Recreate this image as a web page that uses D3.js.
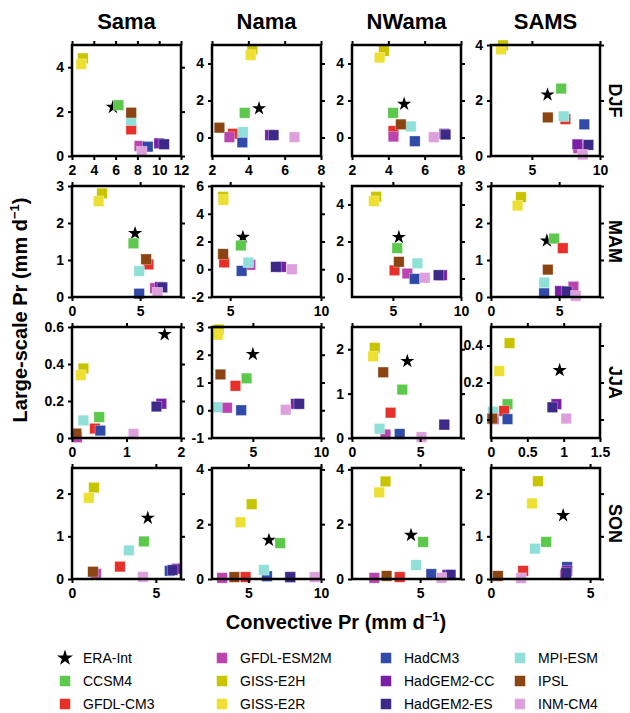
<!DOCTYPE html>
<html><head><meta charset="utf-8">
<script src="https://cdn.jsdelivr.net/npm/d3@7"></script>
<style>
body{margin:0;background:#fff;}
text{font-family:"Liberation Sans",Arial,Helvetica,sans-serif;}
</style></head>
<body><svg id="c" width="630" height="713"></svg>
<script>
// ---------------- data ----------------
const regions = ["Sama", "Nama", "NWama", "SAMS"];
const seasons = ["DJF", "MAM", "JJA", "SON"];
const series = ["ERA-Int", "CCSM4", "GFDL-CM3", "GFDL-ESM2M", "GISS-E2H", "GISS-E2R",
  "HadCM3", "HadGEM2-CC", "HadGEM2-ES", "MPI-ESM", "IPSL", "INM-CM4"];
const seriesColors = ["#000000", "#5cc94c", "#e8302a", "#bb44b0", "#c8c400", "#eee033",
  "#2f4aa8", "#7a1fa8", "#3d2a88", "#8fe0d8", "#8b4513", "#dda0dd"];

// convective Pr (x) and large-scale Pr (y), one row per region (Sama, Nama, NWama, SAMS),
// values in series order
const convDJF = [
  [5.75, 6.27, 7.43, 8.19, 3.0, 2.85, 8.95, 10.0, 10.45, 7.43, 7.43, 8.4],
  [4.59, 3.8, 3.15, 2.96, 4.22, 4.13, 3.67, 5.2, 5.39, 3.7, 2.41, 6.54],
  [4.87, 4.26, 4.28, 4.28, 3.76, 3.52, 5.46, 7.09, 7.15, 5.24, 4.69, 6.5],
  [6.15, 7.15, 7.46, 8.41, 2.88, 2.73, 8.85, 8.34, 9.15, 7.34, 6.17, 8.73]];
const lsDJF = [
  [2.2, 2.29, 1.2, 0.45, 4.4, 4.14, 0.42, 0.57, 0.53, 1.6, 1.95, 0.2],
  [1.57, 1.33, 0.2, 0.02, 4.77, 4.46, -0.26, 0.13, 0.13, 0.29, 0.53, 0.02],
  [1.81, 1.33, 0.35, 0.05, 4.68, 4.32, -0.2, 0.2, 0.16, 0.6, 0.71, 0.02],
  [2.21, 2.43, 1.33, 0.28, 3.99, 3.84, 1.14, 0.42, 0.4, 1.43, 1.39, 0.05]];
const convMAM = [
  [4.63, 4.51, 5.61, 6.1, 2.2, 1.95, 4.93, 6.46, 6.63, 4.93, 5.44, 6.27],
  [5.7, 5.59, 4.67, 6.11, 4.61, 4.63, 5.63, 7.8, 7.52, 6.0, 4.61, 8.4],
  [5.44, 5.32, 5.12, 6.06, 3.77, 3.6, 6.6, 8.6, 8.35, 6.8, 5.44, 7.34],
  [4.1, 4.63, 5.27, 6.05, 2.2, 1.95, 3.9, 5.07, 5.56, 3.9, 4.17, 6.22]];
const lsMAM = [
  [1.72, 1.45, 0.88, 0.24, 2.8, 2.59, 0.09, 0.27, 0.26, 0.7, 1.02, 0.12],
  [2.32, 1.71, 0.49, 0.32, 5.22, 5.0, -0.12, 0.17, 0.17, 0.49, 1.1, 0.0],
  [2.23, 1.64, 0.44, 0.27, 4.42, 4.18, -0.02, 0.18, 0.18, 0.82, 0.9, 0.04],
  [1.52, 1.58, 1.32, 0.28, 2.7, 2.47, 0.1, 0.16, 0.15, 0.39, 0.74, 0.03]];
const convJJA = [
  [1.7, 0.5, 0.42, 0.09, 0.21, 0.16, 0.52, 1.64, 1.55, 0.21, 0.08, 1.13],
  [5.0, 4.54, 3.72, 3.1, 2.49, 2.42, 4.14, 8.16, 8.4, 2.37, 2.62, 7.41],
  [4.06, 3.69, 2.83, 2.46, 1.67, 1.55, 3.5, 6.77, 6.77, 2.02, 2.29, 5.1],
  [0.945, 0.227, 0.18, 0.036, 0.255, 0.114, 0.227, 0.9, 0.845, 0.027, 0.018, 1.036]];
const lsJJA = [
  [0.56, 0.113, 0.051, 0.004, 0.376, 0.34, 0.04, 0.185, 0.17, 0.095, 0.024, 0.022],
  [2.02, 1.15, 0.88, 0.09, 2.91, 2.72, 0.0, 0.23, 0.23, 0.11, 1.29, 0.02],
  [1.73, 1.09, 0.57, 0.08, 2.03, 1.84, 0.09, 0.3, 0.3, 0.21, 1.48, 0.02],
  [0.266, 0.083, 0.046, 0.002, 0.413, 0.262, 0.002, 0.083, 0.066, 0.042, 0.005, 0.005]];
const convSON = [
  [4.52, 4.29, 2.86, 1.43, 1.31, 1.0, 5.83, 6.25, 6.0, 3.39, 1.25, 4.23],
  [6.42, 7.19, 4.81, 3.2, 5.23, 4.46, 6.28, 7.88, 7.88, 6.07, 4.04, 9.56],
  [4.33, 5.22, 3.5, 1.64, 2.46, 2.0, 5.82, 7.0, 7.24, 4.7, 2.54, 6.57],
  [3.64, 2.78, 1.62, 3.74, 2.37, 2.07, 3.84, 3.84, 3.79, 2.22, 0.35, 1.52]];
const lsSON = [
  [1.43, 0.88, 0.29, 0.12, 2.14, 1.9, 0.19, 0.24, 0.21, 0.67, 0.17, 0.05],
  [1.42, 1.31, 0.07, 0.04, 2.73, 2.07, 0.1, 0.07, 0.07, 0.33, 0.07, 0.07],
  [1.6, 1.35, 0.07, 0.04, 3.56, 3.16, 0.18, 0.15, 0.15, 0.51, 0.11, 0.04],
  [1.49, 0.87, 0.19, 0.09, 2.29, 1.77, 0.28, 0.19, 0.14, 0.71, 0.07, 0.02]];

// axis ranges and tick labels per panel [season][region]
const xDomains = [
  [[2, 12], [2, 8], [2, 8], [2, 10]],
  [[0, 8], [4, 10], [2, 10], [0, 8]],
  [[0, 2], [2, 10], [0, 8], [0, 1.5]],
  [[0, 6.5], [2.5, 10], [0, 8], [0, 5.5]]];
const xTicks = [
  [[2, 4, 6, 8, 10, 12], [2, 4, 6, 8], [2, 4, 6, 8], [5, 10]],
  [[0, 5], [5, 10], [5, 10], [0, 5]],
  [[0, 1, 2], [5, 10], [0, 5], [0, 0.5, 1, 1.5]],
  [[0, 5], [5, 10], [5], [0, 5]]];
const yDomains = [
  [[0, 5], [-1, 5], [-1, 5], [0, 4]],
  [[0, 3], [-2, 6], [-1, 5], [0, 3]],
  [[0, 0.6], [-1, 3], [0, 2.5], [-0.1, 0.5]],
  [[0, 2.6], [0, 4.05], [0, 4.05], [0, 2.6]]];
const yTicks = [
  [[0, 2, 4], [0, 2, 4], [0, 2, 4], [0, 2, 4]],
  [[0, 1, 2, 3], [-2, 0, 2, 4, 6], [0, 2, 4], [0, 1, 2, 3]],
  [[0, 0.2, 0.4, 0.6], [-1, 0, 1, 2, 3], [0, 1, 2], [0, 0.2, 0.4]],
  [[0, 1, 2], [0, 2, 4], [0, 2, 4], [0, 1, 2]]];

const convAll = [convDJF, convMAM, convJJA, convSON];
const lsAll = [lsDJF, lsMAM, lsJJA, lsSON];

// ---------------- layout ----------------
const svg = d3.select("#c");
const colLeft = [72, 212, 352, 491];
const rowTop = [45, 186, 327, 468];
const pw = 109, ph = 111;
const sq = 10.5;
const fmt = v => String(v);

regions.forEach((r, ci) => {
  svg.append("text").attr("x", colLeft[ci] + pw / 2).attr("y", 29)
    .attr("text-anchor", "middle").attr("font-size", 22).attr("font-weight", "bold").text(r);
});
seasons.forEach((s, ri) => {
  const cx = 615, cy = rowTop[ri] + ph / 2;
  svg.append("text").attr("transform", `translate(${cx},${cy}) rotate(90)`)
    .attr("text-anchor", "middle").attr("dy", "0.35em")
    .attr("font-size", 18).attr("font-weight", "bold").text(s);
});

const starPath = d3.symbol().type(d3.symbolStar).size(62)();

for (let ri = 0; ri < 4; ri++) {
  for (let ci = 0; ci < 4; ci++) {
    const x0 = colLeft[ci], y0 = rowTop[ri];
    const g = svg.append("g").attr("transform", `translate(${x0},${y0})`);
    const x = d3.scaleLinear().domain(xDomains[ri][ci]).range([0, pw]);
    const y = d3.scaleLinear().domain(yDomains[ri][ci]).range([ph, 0]);
    const xs = convAll[ri][ci], ys = lsAll[ri][ci];

    d3.range(series.length).forEach(i => {
      if (i === 0) {
        g.append("path").attr("d", starPath)
          .attr("transform", `translate(${x(xs[i])},${y(ys[i])})`)
          .attr("fill", "#000");
      } else {
        g.append("rect").attr("x", x(xs[i]) - sq / 2).attr("y", y(ys[i]) - sq / 2)
          .attr("width", sq).attr("height", sq).attr("fill", seriesColors[i])
          .attr("stroke", "#fff").attr("stroke-opacity", 0.5).attr("stroke-width", 0.6);
      }
    });

    const style = sel => {
      sel.select(".domain").remove();
      sel.selectAll("line").attr("stroke", "#000").attr("stroke-width", 2);
      sel.selectAll("text").attr("font-size", 14).attr("font-weight", "bold")
        .attr("font-family", "Liberation Sans, Arial, sans-serif").attr("fill", "#000");
    };
    g.append("g").attr("transform", `translate(0,${ph})`)
      .call(d3.axisBottom(x).tickValues(xTicks[ri][ci]).tickSize(4).tickPadding(5).tickFormat(fmt)).call(style);
    g.append("g")
      .call(d3.axisTop(x).tickValues(xTicks[ri][ci]).tickSize(4).tickFormat("")).call(style);
    g.append("g")
      .call(d3.axisLeft(y).tickValues(yTicks[ri][ci]).tickSize(4).tickPadding(4).tickFormat(fmt)).call(style);
    g.append("g").attr("transform", `translate(${pw},0)`)
      .call(d3.axisRight(y).tickValues(yTicks[ri][ci]).tickSize(4).tickFormat("")).call(style);
    g.append("rect").attr("width", pw).attr("height", ph)
      .attr("fill", "none").attr("stroke", "#000").attr("stroke-width", 2.5);
  }
}

// axis titles
const yt = svg.append("text").attr("transform", "translate(27,310) rotate(-90)")
  .attr("text-anchor", "middle").attr("font-size", 20).attr("font-weight", "bold");
yt.append("tspan").text("Large-scale Pr (mm d");
yt.append("tspan").attr("dy", -8).attr("font-size", 13).text("−1");
yt.append("tspan").attr("dy", 8).text(")");
const xt = svg.append("text").attr("x", 336).attr("y", 629)
  .attr("text-anchor", "middle").attr("font-size", 20).attr("font-weight", "bold");
xt.append("tspan").text("Convective Pr (mm d");
xt.append("tspan").attr("dy", -8).attr("font-size", 13).text("−1");
xt.append("tspan").attr("dy", 8).text(")");

// legend
const legX = [65, 222, 386, 520];
const legY = [658, 681, 704];
series.forEach((s, i) => {
  const col = Math.floor(i / 3), row = i % 3;
  const lx = legX[col], ly = legY[row];
  if (i === 0) {
    svg.append("path").attr("d", d3.symbol().type(d3.symbolStar).size(80)())
      .attr("transform", `translate(${lx},${ly})`).attr("fill", "#000");
  } else {
    svg.append("rect").attr("x", lx - sq / 2).attr("y", ly - sq / 2).attr("width", sq).attr("height", sq)
      .attr("fill", seriesColors[i]);
  }
  svg.append("text").attr("x", lx + 18).attr("y", ly).attr("dy", "0.35em")
    .attr("font-size", 14).text(s);
});
</script></body></html>
